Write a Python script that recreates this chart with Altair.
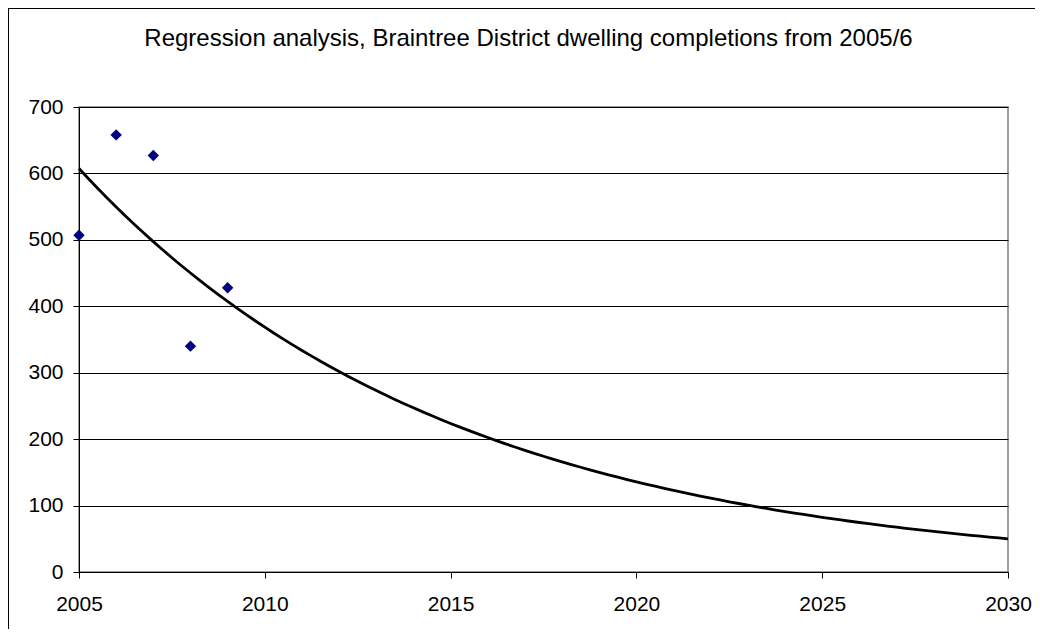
import altair as alt
import numpy as np
import pandas as pd

# Observed completions (year start of 2005/6 etc.)
years = [2005, 2006, 2007, 2008, 2009]
completions = [507, 658, 627, 340, 428]

x_ticks = [2005, 2010, 2015, 2020, 2025, 2030]
y_ticks = [0, 100, 200, 300, 400, 500, 600, 700]

title_text = "Regression analysis, Braintree District dwelling completions from 2005/6"

# Exponential trend line (least squares on log values, as Excel does)
slope, intercept = np.polyfit(np.array(years, dtype=float), np.log(completions), 1)
trend_x = np.linspace(2005, 2030, 101)
trend = pd.DataFrame({"year": trend_x, "value": np.exp(intercept + slope * trend_x)})

pts = pd.DataFrame({"year": years, "value": completions})
title_df = pd.DataFrame({"t": [title_text]})

xscale = alt.Scale(domain=[2005, 2030], nice=False, zero=False)
yscale = alt.Scale(domain=[0, 700], nice=False)

xaxis = alt.Axis(values=x_ticks, format="d", grid=False, title=None,
                 tickSize=6, labelPadding=15, labelFlush=False)
yaxis = alt.Axis(values=y_ticks, grid=True, title=None, tickSize=6,
                 labelPadding=10)

line = alt.Chart(trend).mark_line(color="black", strokeWidth=2.8).encode(
    x=alt.X("year:Q", scale=xscale, axis=xaxis),
    y=alt.Y("value:Q", scale=yscale, axis=yaxis),
)

points = alt.Chart(pts).mark_point(shape="diamond", filled=True, color="#000080",
                                   size=130, opacity=1).encode(
    x=alt.X("year:Q", scale=xscale),
    y=alt.Y("value:Q", scale=yscale),
)

title = alt.Chart(title_df).mark_text(
    font="Liberation Sans", fontSize=24, color="black", align="center",
    baseline="alphabetic"
).encode(x=alt.value(449.5), y=alt.value(-61), text="t:N")

frame_left = alt.Chart(pts).mark_rule(color="black", strokeWidth=1).encode(
    x=alt.value(-70.5), y=alt.value(-98.5), y2=alt.value(530)
)
frame_top = alt.Chart(pts).mark_rule(color="black", strokeWidth=1).encode(
    x=alt.value(-70.5), x2=alt.value(960), y=alt.value(-98.5)
)

chart = alt.layer(line, points, title, frame_left, frame_top).properties(
    width=929,
    height=465,
    padding={"left": 71, "top": 99, "right": 27, "bottom": 57},
    autosize=alt.AutoSizeParams(type="none"),
).configure_view(
    stroke="#808080", strokeWidth=1.5
).configure_axis(
    domainColor="black", domainWidth=1, tickColor="black", gridColor="black",
    gridWidth=1, labelFont="Liberation Sans", labelFontSize=21, labelColor="black",
)

chart.save("out.html", embed_options={"renderer": "svg", "actions": False})
